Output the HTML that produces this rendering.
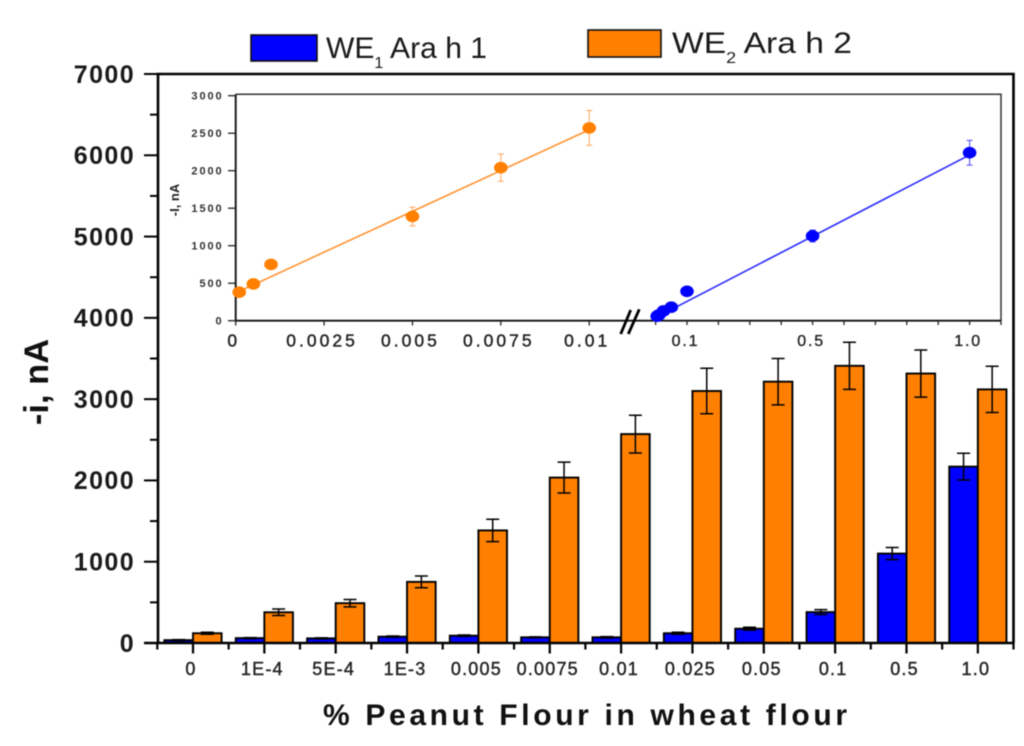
<!DOCTYPE html>
<html lang="en">
<head>
<meta charset="utf-8">
<title>Peanut flour chart</title>
<style>
html,body{margin:0;padding:0;background:#fff;width:1024px;height:746px;overflow:hidden}
svg{display:block;filter:blur(0.45px)}
text{font-family:"Liberation Sans",Arial,sans-serif}
</style>
</head>
<body>
<svg id="chart" xmlns="http://www.w3.org/2000/svg" width="1024" height="746" viewBox="0 0 1024 746">
  <rect x="0" y="0" width="1024" height="746" fill="#fff"/>
  <g>
    <rect x="251" y="35" width="66" height="26" fill="#0000ff" stroke="#111" stroke-width="1.6"/>
    <text x="326" y="58" font-size="30" fill="#1a1a1a" textLength="161" lengthAdjust="spacingAndGlyphs">WE<tspan font-size="16" dy="10">1</tspan><tspan dy="-10" xml:space="preserve"> Ara h 1</tspan></text>
    <rect x="588" y="30" width="73" height="27" fill="#ff8000" stroke="#111" stroke-width="1.6"/>
    <text x="672" y="53" font-size="30" fill="#1a1a1a" textLength="180" lengthAdjust="spacingAndGlyphs">WE<tspan font-size="16" dy="10">2</tspan><tspan dy="-10" xml:space="preserve"> Ara h 2</tspan></text>
  </g>
  <text transform="translate(48,382) rotate(-90)" text-anchor="middle" font-size="34.5" font-weight="bold" fill="#111">-i, nA</text>
  <text x="323" y="725" font-size="30" font-weight="bold" fill="#111" textLength="524">% Peanut Flour in wheat flour</text>
  <text transform="translate(179,200) rotate(-90)" text-anchor="middle" font-size="13" font-weight="bold" fill="#222">-I, nA</text>
  <g id="main-bars"></g>
  <g id="main-axes"></g>
  <g id="inset"></g>
  <g stroke="#000" stroke-width="2.8">
    <line x1="620.7" y1="334" x2="630.7" y2="310"/>
    <line x1="628.3" y1="334" x2="639.3" y2="309.3"/>
  </g>
</svg>
<script>
// Main bar chart data
const categories = ['0','1E-4','5E-4','1E-3','0.005','0.0075','0.01','0.025','0.05','0.1','0.5','1.0'];
const we1Values = [35,60,57,78,90,70,70,120,176,380,1100,2170];
const we2Values = [120,378,490,752,1385,2035,2570,3100,3215,3410,3315,3120];
const we1Errors = [6,6,6,8,8,6,8,12,18,30,75,165];
const we2Errors = [12,40,45,72,138,190,232,280,285,290,290,285];
const yTickValues = [0,1000,2000,3000,4000,5000,6000,7000];
const yMinorValues = [500,1500,2500,3500,4500,5500,6500];

// Inset data
const insetYTicks = [0,500,1000,1500,2000,2500,3000];
const orangeDoses = [0.0001,0.0005,0.001,0.005,0.0075,0.01];
const orangeCurrents = [380,490,750,1390,2040,2570];
const orangeErrors = [10,10,10,125,182,232];
const orangeFitDoses = [0,0.01];
const orangeFitCurrents = [370,2546];
const blueDoses = [0.005,0.0075,0.01,0.025,0.05,0.1,0.5,1.0];
const blueCurrents = [60,70,75,130,180,392,1130,2240];
const blueErrors = [5,5,5,10,15,25,80,165];
const blueFitDoses = [0,1.0];
const blueFitCurrents = [40,2210];
const insetLeftTicks = [0,0.0025,0.005,0.0075,0.01];
const insetLeftLabels = ['0','0.0025','0.005','0.0075','0.01'];
const insetRightTicks = [0,0.1,0.2,0.3,0.4,0.5,0.6,0.7,0.8,0.9,1.0,1.1];
const insetRightLabelValues = [0.1,0.5,1.0];
const insetRightLabels = ['0.1','0.5','1.0'];

const NS = 'http://www.w3.org/2000/svg';
function mk(tag, attrs, parent, txt){
  const el = document.createElementNS(NS, tag);
  for (const k in attrs) el.setAttribute(k, attrs[k]);
  if (txt !== undefined) el.textContent = txt;
  parent.appendChild(el);
  return el;
}
// Axis functions
const yMain = v => 643 - v * (569 / 7000);
const xMainCenter = i => 193 + i * 71.35;
const yInset = v => 320.7 - v * 0.075;
const xInsetLeft = v => 235.7 + v * 35350;
const xInsetRight = v => 655.6 + v * 314;

const barsG = document.getElementById('main-bars');
const axesG = document.getElementById('main-axes');
const insetG = document.getElementById('inset');
const BW = 28.6;

function drawBar(cx0, val, err, fill){
  const top = yMain(val);
  const r = mk('rect', {x: cx0, y: top, width: BW, height: 643 - top, fill: fill, stroke: '#000', 'stroke-width': 1.9}, barsG);
  
  
  const c = cx0 + BW / 2;
  const eb = mk('path', {d: 'M' + c + ' ' + yMain(val + err) + 'V' + yMain(val - err) + 'M' + (c - 6.5) + ' ' + yMain(val + err) + 'h13M' + (c - 6.5) + ' ' + yMain(val - err) + 'h13', fill: 'none', stroke: '#000', 'stroke-width': 1.5}, barsG);
  
  
}
categories.forEach((cat, i) => {
  drawBar(xMainCenter(i) - BW, we1Values[i], we1Errors[i], '#0000ff');
  drawBar(xMainCenter(i), we2Values[i], we2Errors[i], '#ff8000');
});

// Main axes frame
const frame = mk('path', {d: 'M158 643V74H1013.5V643', fill: 'none', stroke: '#000', 'stroke-width': 2.6}, axesG);


const xAxisLine = mk('line', {x1: 144, y1: 643, x2: 1014, y2: 643, stroke: '#000', 'stroke-width': 2.4}, axesG);



yTickValues.forEach(v => {
  const t = mk('line', {x1: 144, x2: 158, y1: yMain(v), y2: yMain(v), stroke: '#000', 'stroke-width': 2}, axesG);
  
  
  const l = mk('text', {x: 135, y: yMain(v) + 8.8, 'text-anchor': 'end', 'font-size': 25, 'font-weight': 'bold', 'letter-spacing': 1.4, fill: '#1a1a1a'}, axesG, String(v));
  
  
});
yMinorValues.forEach(v => {
  const t = mk('line', {x1: 150, x2: 158, y1: yMain(v), y2: yMain(v), stroke: '#000', 'stroke-width': 2}, axesG);
  
  
});
categories.forEach((cat, i) => {
  const x = xMainCenter(i);
  const t = mk('line', {x1: x, x2: x, y1: 643, y2: 653.5, stroke: '#000', 'stroke-width': 2.2}, axesG);
  
  
  const m = mk('line', {x1: x - 35.7, x2: x - 35.7, y1: 643, y2: 649.5, stroke: '#000', 'stroke-width': 2.2}, axesG);
  
  
  const l = mk('text', {x: x - 2, y: 675, 'text-anchor': 'middle', 'font-size': 18, 'letter-spacing': 1.2, fill: '#222', stroke: '#222', 'stroke-width': 0.4}, axesG, cat);
  
  
});
const endTick = mk('line', {x1: 1013.5, x2: 1013.5, y1: 643, y2: 649.5, stroke: '#000', 'stroke-width': 2.2}, axesG);



// Inset frame
const inBox = mk('path', {d: 'M235.7 94.3H1001V320.7', fill: 'none', stroke: '#333', 'stroke-width': 1.5}, insetG);


const inAxes = mk('path', {d: 'M235.7 94.3V320.7H1001', fill: 'none', stroke: '#111', 'stroke-width': 1.9}, insetG);



insetYTicks.forEach(v => {
  const t = mk('line', {x1: 228, x2: 235.7, y1: yInset(v), y2: yInset(v), stroke: '#222', 'stroke-width': 1.3}, insetG);
  
  
  const l = mk('text', {x: 223.5, y: yInset(v) + 4, 'text-anchor': 'end', 'font-size': 11, 'font-weight': 'bold', 'letter-spacing': 1.9, fill: '#333'}, insetG, String(v));
  
  
});
insetLeftTicks.forEach((v, i) => {
  const x = xInsetLeft(v);
  const t = mk('line', {x1: x, x2: x, y1: 320.7, y2: 325.5, stroke: '#222', 'stroke-width': 1.3}, insetG);
  
  
  const l = mk('text', {x: x - 2, y: 346.5, 'text-anchor': 'middle', 'font-size': 17.5, 'letter-spacing': 3, fill: '#222', stroke: '#222', 'stroke-width': 0.4}, insetG, insetLeftLabels[i]);
  
  
});
insetRightTicks.forEach(v => {
  const x = xInsetRight(v);
  const t = mk('line', {x1: x, x2: x, y1: 320.7, y2: 325, stroke: '#222', 'stroke-width': 1.3}, insetG);
  
  
});
insetRightLabelValues.forEach((v, i) => {
  const l = mk('text', {x: xInsetRight(v) - 1.5, y: 345.8, 'text-anchor': 'middle', 'font-size': 16, 'letter-spacing': 1.8, fill: '#222', stroke: '#222', 'stroke-width': 0.35}, insetG, insetRightLabels[i]);
  
  
});

function drawSeries(name, xf, xs, ys, es, fx, fy, col, lineCol, errCol){
  const fit = mk('line', {x1: xf(fx[0]), y1: yInset(fy[0]), x2: xf(fx[1]), y2: yInset(fy[1]), stroke: lineCol, 'stroke-width': 1.6}, insetG);
  
  
  xs.forEach((d, i) => {
    const x = xf(d), hi = yInset(ys[i] + es[i]), lo = yInset(ys[i] - es[i]);
    const eb = mk('path', {d: 'M' + x + ' ' + hi + 'V' + lo + 'M' + (x - 3) + ' ' + hi + 'h6M' + (x - 3) + ' ' + lo + 'h6', fill: 'none', stroke: errCol, 'stroke-width': 1}, insetG);
    
    
    const p = mk('ellipse', {cx: x, cy: yInset(ys[i]), rx: 6.8, ry: 5.8, fill: col}, insetG);
    
    
  });
}
drawSeries('we2-inset', xInsetLeft, orangeDoses, orangeCurrents, orangeErrors, orangeFitDoses, orangeFitCurrents, '#ff8000', '#ff9433', '#ffa55c');
drawSeries('we1-inset', xInsetRight, blueDoses, blueCurrents, blueErrors, blueFitDoses, blueFitCurrents, '#0000ff', '#2a2aff', '#4a4aff');
</script>
</body>
</html>
